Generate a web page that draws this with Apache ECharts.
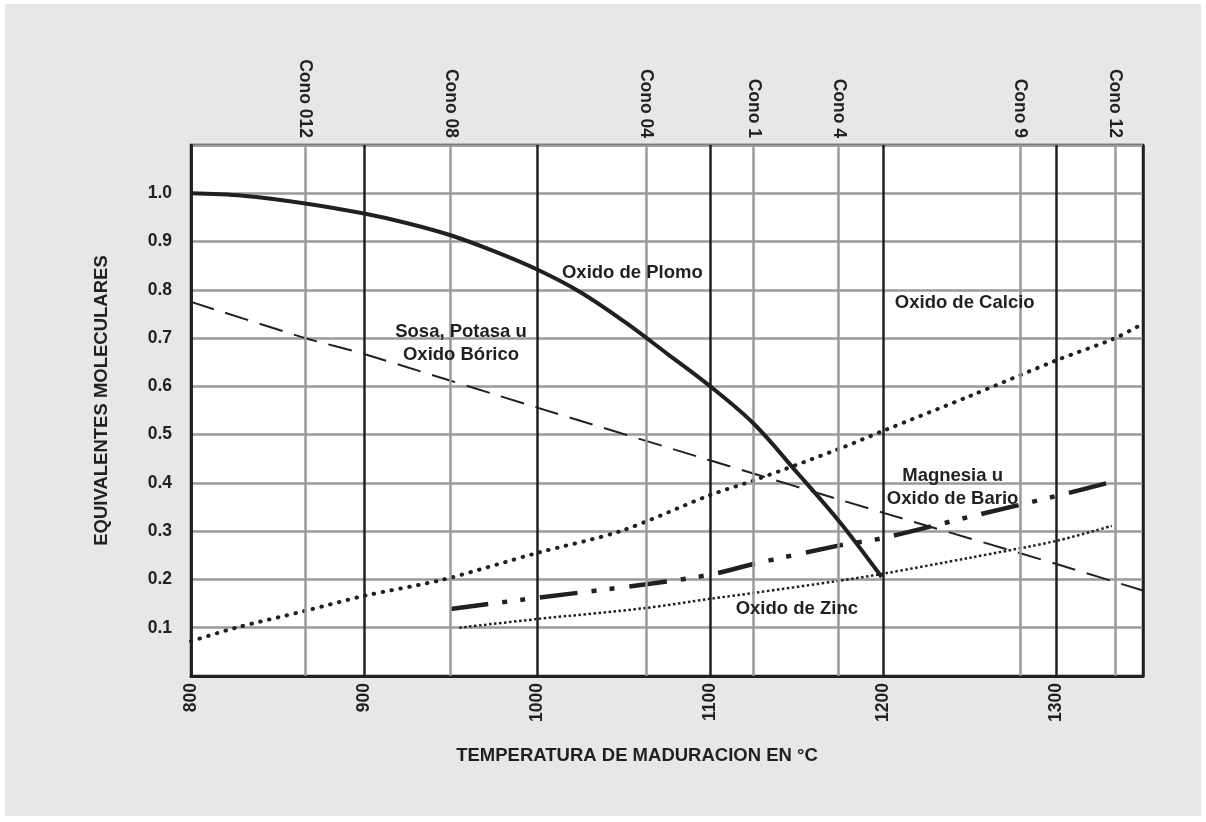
<!DOCTYPE html>
<html>
<head>
<meta charset="utf-8">
<script src="https://cdn.jsdelivr.net/npm/echarts@6/dist/echarts.min.js"></script>
<style>
html,body{margin:0;padding:0;background:#fff;}
#bg{position:absolute;left:5px;top:4px;width:1196px;height:812px;background:#e6e7e9;}
#chart{position:absolute;left:0;top:0;width:1206px;height:822px;}
</style>
</head>
<body>
<div id="bg"></div>
<div id="chart"></div>
<script>
// ---- data ----
const plomoT = [800, 830, 866, 900, 925, 950, 975, 1000, 1025, 1050, 1075, 1100, 1125, 1150, 1175, 1199];
const plomoV = [1.0, 0.995, 0.979, 0.958, 0.938, 0.913, 0.880, 0.842, 0.795, 0.735, 0.668, 0.600, 0.523, 0.422, 0.318, 0.205];

const sosaT = [800, 866, 900, 1000, 1095, 1200, 1300, 1350];
const sosaV = [0.775, 0.700, 0.667, 0.556, 0.452, 0.338, 0.232, 0.177];

const calcioT = [800, 826, 866, 900, 946, 1000, 1048, 1100, 1125, 1174, 1200, 1250, 1300, 1334, 1350];
const calcioV = [0.072, 0.100, 0.135, 0.166, 0.200, 0.255, 0.300, 0.375, 0.405, 0.470, 0.508, 0.580, 0.654, 0.700, 0.730];

const magnesiaT = [950, 1000, 1063, 1100, 1125, 1174, 1200, 1250, 1300, 1335];
const magnesiaV = [0.139, 0.162, 0.190, 0.210, 0.232, 0.270, 0.286, 0.330, 0.373, 0.405];

const zincT = [955, 1000, 1063, 1100, 1125, 1174, 1200, 1250, 1300, 1332];
const zincV = [0.100, 0.118, 0.141, 0.160, 0.172, 0.197, 0.212, 0.245, 0.280, 0.311];

const coneNames = ['Cono 012', 'Cono 08', 'Cono 04', 'Cono 1', 'Cono 4', 'Cono 9', 'Cono 12'];
const coneTemps = [866, 950, 1063, 1125, 1174, 1279, 1334];

const seriesLabels = ['Oxido de Plomo', 'Sosa, Potasa u\nOxido Bórico', 'Oxido de Calcio', 'Magnesia u\nOxido de Bario', 'Oxido de Zinc'];
const labelT = [1055, 956, 1247, 1240, 1150];
const labelV = [0.836, 0.689, 0.772, 0.390, 0.139];

const xTitle = 'TEMPERATURA DE MADURACION EN °C';
const yTitle = 'EQUIVALENTES MOLECULARES';

// ---- chart ----
const pair = (t, v) => t.map((x, i) => [x, v[i]]);
const INK = '#231f20';
const GRID_GRAY = '#9a9a9a';
const FONT = 'Liberation Sans, Arial, Helvetica, sans-serif';

const chart = echarts.init(document.getElementById('chart'), null, {renderer: 'canvas'});
chart.setOption({
  backgroundColor: 'transparent',
  animation: false,
  textStyle: {fontFamily: FONT},
  grid: {left: 191, top: 145, right: 63, bottom: 146, show: true, backgroundColor: '#fff', borderColor: INK, borderWidth: 2.5},
  xAxis: [{
    type: 'value', min: 800, max: 1350, interval: 100,
    position: 'bottom',
    name: xTitle, nameLocation: 'middle', nameGap: 70,
    nameTextStyle: {color: INK, fontWeight: 'bold', fontSize: 18.5, fontFamily: FONT, padding: [0, 60, 0, 0]},
    axisLine: {show: true, lineStyle: {color: INK, width: 3}},
    axisTick: {show: false},
    axisLabel: {rotate: 90, margin: 7, color: INK, fontWeight: 'bold', fontSize: 17.5, fontFamily: FONT, showMaxLabel: false,
      formatter: v => (v % 100 === 0 ? String(v) : '')},
    splitLine: {show: true, lineStyle: {color: INK, width: 2.5}}
  }, {
    type: 'value', min: 800, max: 1350,
    position: 'top',
    axisLine: {show: false},
    axisTick: {show: false},
    splitLine: {show: false},
    axisLabel: {
      customValues: coneTemps,
      rotate: 90, margin: 7, color: INK, fontWeight: 'bold', fontSize: 17.5, fontFamily: FONT,
      formatter: v => { const i = coneTemps.indexOf(v); return i >= 0 ? coneNames[i] : ''; }
    }
  }],
  yAxis: {
    type: 'value', min: 0, max: 1.1, interval: 0.1,
    name: yTitle, nameLocation: 'middle', nameGap: 80, nameRotate: 90,
    nameTextStyle: {color: INK, fontWeight: 'bold', fontSize: 18.5, fontFamily: FONT, padding: [0, 0, 0, 20]},
    axisLine: {show: true, lineStyle: {color: INK, width: 2.5}},
    axisTick: {show: false},
    axisLabel: {margin: 19, color: INK, fontWeight: 'bold', fontSize: 17.5, fontFamily: FONT,
      showMinLabel: false, showMaxLabel: false, formatter: v => v.toFixed(1)},
    splitLine: {show: true, lineStyle: {color: GRID_GRAY, width: 2.5}}
  },
  series: [
    {
      type: 'line', data: [], z: 1, silent: true,
      markLine: {
        silent: true, symbol: 'none', label: {show: false},
        lineStyle: {color: GRID_GRAY, width: 2.5, type: 'solid'},
        data: coneTemps.map(t => ({xAxis: t}))
      }
    },
    {
      name: 'Oxido de Plomo', type: 'line', data: pair(plomoT, plomoV), smooth: 0.35,
      showSymbol: false, z: 5, lineStyle: {color: INK, width: 4}
    },
    {
      name: 'Sosa', type: 'line', data: pair(sosaT, sosaV), smooth: 0.2,
      showSymbol: false, z: 4, lineStyle: {color: INK, width: 2, type: [24, 12]}
    },
    {
      name: 'Calcio', type: 'line', data: pair(calcioT, calcioV), smooth: 0.3,
      showSymbol: false, z: 4, lineStyle: {color: INK, width: 4, type: [0.5, 8.5], cap: 'round'}
    },
    {
      name: 'Magnesia', type: 'line', data: pair(magnesiaT, magnesiaV), smooth: 0.3,
      showSymbol: false, z: 4, lineStyle: {color: INK, width: 4.5, type: [38, 14, 5, 13, 5, 15], cap: 'butt'}
    },
    {
      name: 'Zinc', type: 'line', data: pair(zincT, zincV), smooth: 0.3,
      showSymbol: false, z: 4, lineStyle: {color: INK, width: 2.5, type: [2.5, 2.5]}
    },
    {
      type: 'scatter', symbolSize: 0, silent: true, z: 6,
      itemStyle: {opacity: 1, color: INK},
      data: labelT.map((t, i) => [t, labelV[i], seriesLabels[i]]),
      label: {show: true, position: 'inside', formatter: p => p.value[2], color: INK, opacity: 1,
        fontWeight: 'bold', fontSize: 18.5, fontFamily: FONT, lineHeight: 23, align: 'center', verticalAlign: 'middle'}
    }
  ]
});
</script>
</body>
</html>
